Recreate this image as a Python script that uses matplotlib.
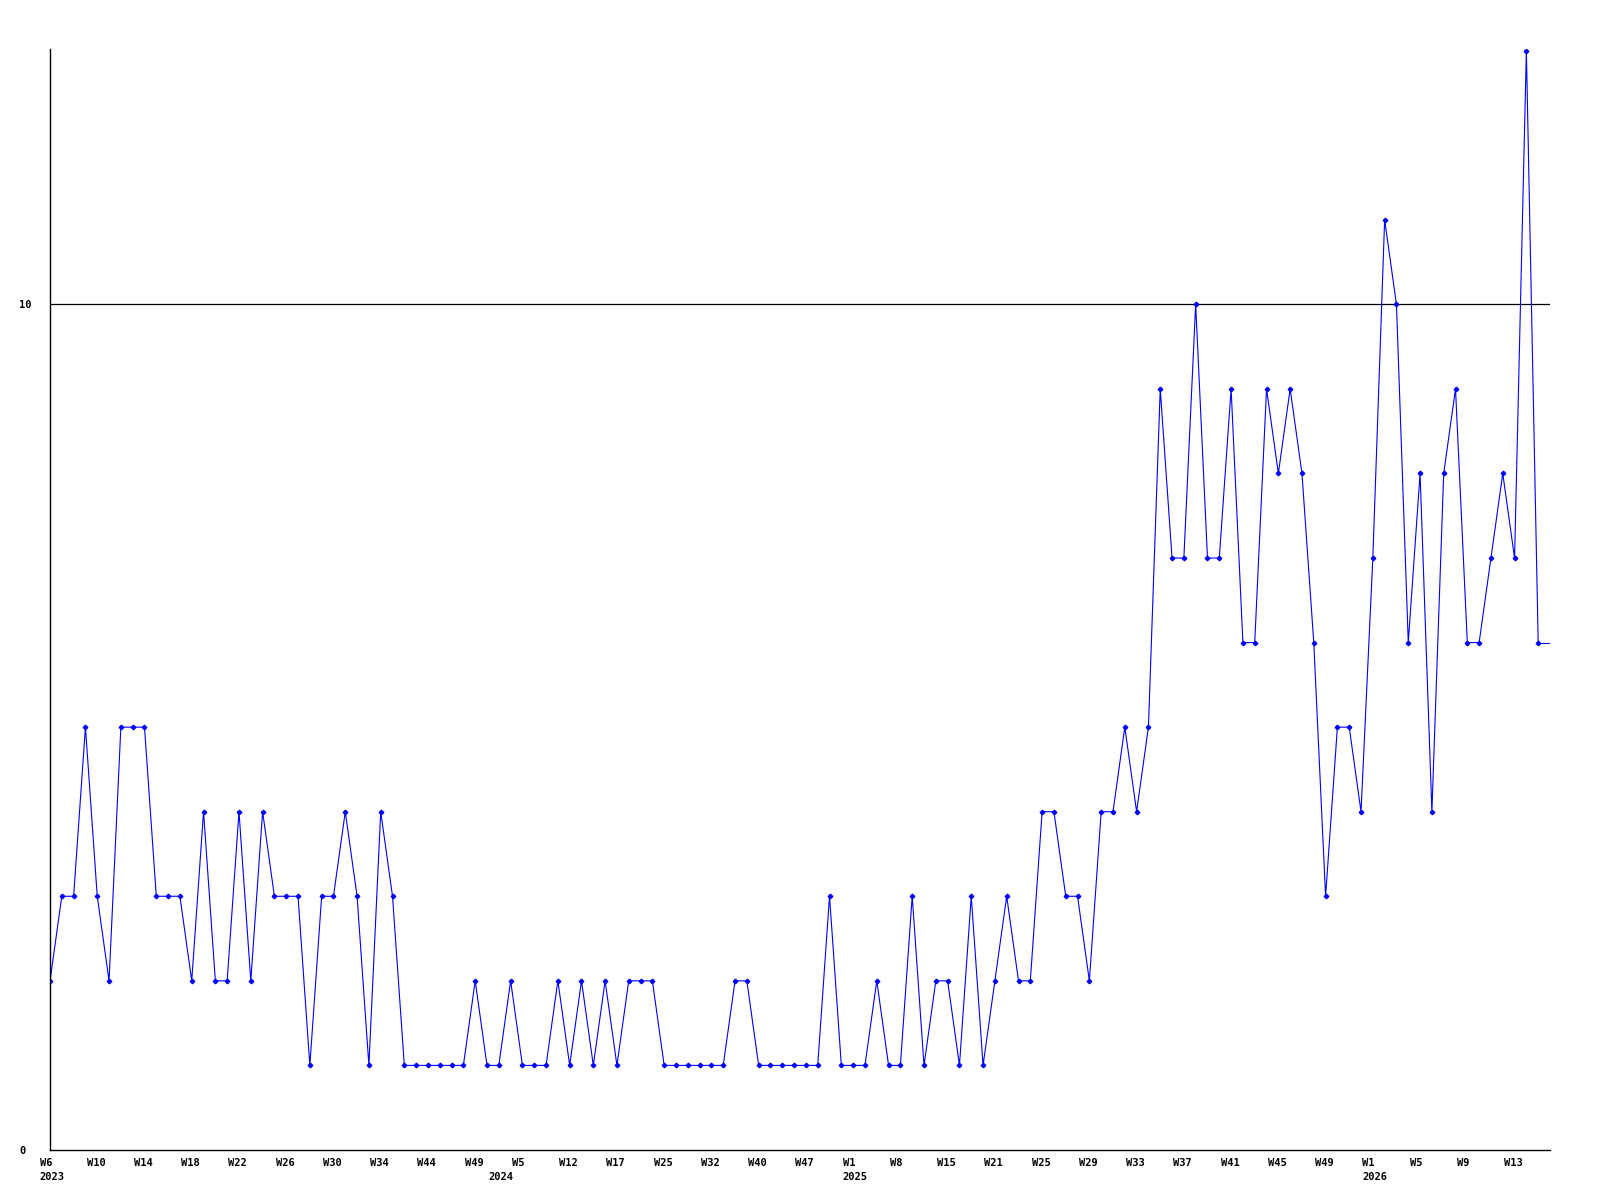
#!/usr/bin/env python3
"""Weekly count chart, 2023 W6 to 2026 W15."""
import matplotlib

matplotlib.use("Agg")
import matplotlib.pyplot as plt
from matplotlib.transforms import ScaledTranslation, blended_transform_factory

# one value per reported week (index = position on the x axis)
counts = [
    2, 3, 3, 5, 3, 2, 5, 5, 5, 3,
    3, 3, 2, 4, 2, 2, 4, 2, 4, 3,
    3, 3, 1, 3, 3, 4, 3, 1, 4, 3,
    1, 1, 1, 1, 1, 1, 2, 1, 1, 2,
    1, 1, 1, 2, 1, 2, 1, 2, 1, 2,
    2, 2, 1, 1, 1, 1, 1, 1, 2, 2,
    1, 1, 1, 1, 1, 1, 3, 1, 1, 1,
    2, 1, 1, 3, 1, 2, 2, 1, 3, 1,
    2, 3, 2, 2, 4, 4, 3, 3, 2, 4,
    4, 5, 4, 5, 9, 7, 7, 10, 7, 7,
    9, 6, 6, 9, 8, 9, 8, 6, 3, 5,
    5, 4, 7, 11, 10, 6, 8, 4, 8, 9,
    6, 6, 7, 8, 7, 13, 6,
]

week_labels = [
    "W6", "W10", "W14", "W18", "W22", "W26", "W30", "W34",
    "W44", "W49", "W5", "W12", "W17", "W25", "W32", "W40",
    "W47", "W1", "W8", "W15", "W21", "W25", "W29", "W33",
    "W37", "W41", "W45", "W49", "W1", "W5", "W9", "W13",
]
label_step = 4

years = ["2023", "2024", "2025", "2026"]
year_pos = [0, 38, 68, 112]

y_ticks = [0, 10]

BLUE = "#0000ff"
FONT = dict(family="DejaVu Sans Mono", fontweight="bold", fontsize=7.5)

fig = plt.figure(figsize=(16, 12), dpi=100)
ax = fig.add_axes([0.03125, 0.0417, 0.9375, 0.9175])

xs = list(range(len(counts)))
x_end = len(counts)
ax.plot(xs, counts, color=BLUE, linewidth=0.8, marker="D", markersize=2.3,
        markerfacecolor=BLUE, markeredgecolor=BLUE)
# last value carried to the right edge of the axis
ax.plot([xs[-1], x_end], [counts[-1], counts[-1]], color=BLUE, linewidth=0.8)

ax.set_xlim(0, x_end)
ax.set_ylim(0, 13.02)

ax.axhline(10, color="black", linewidth=0.9, zorder=0)

for side in ("top", "right"):
    ax.spines[side].set_visible(False)
for side in ("left", "bottom"):
    ax.spines[side].set_linewidth(1.0)
    ax.spines[side].set_color("black")

ax.set_yticks(y_ticks, [str(v) for v in y_ticks], **FONT)
ax.tick_params(axis="y", length=0, pad=22)
for lab in ax.get_yticklabels():
    lab.set_horizontalalignment("left")

shift = ScaledTranslation(-10.5 / 100, 0, fig.dpi_scale_trans)
ax.set_xticks([i * label_step for i in range(len(week_labels))], week_labels, **FONT)
ax.tick_params(axis="x", length=0, pad=6)
for lab in ax.get_xticklabels():
    lab.set_horizontalalignment("left")
    lab.set_transform(lab.get_transform() + shift)

trans = blended_transform_factory(ax.transData, ax.transAxes) + shift
for pos, year in zip(year_pos, years):
    ax.text(pos, -0.02, year, transform=trans, ha="left", va="top", **FONT)

fig.savefig("out.png", dpi=100, facecolor="white")
